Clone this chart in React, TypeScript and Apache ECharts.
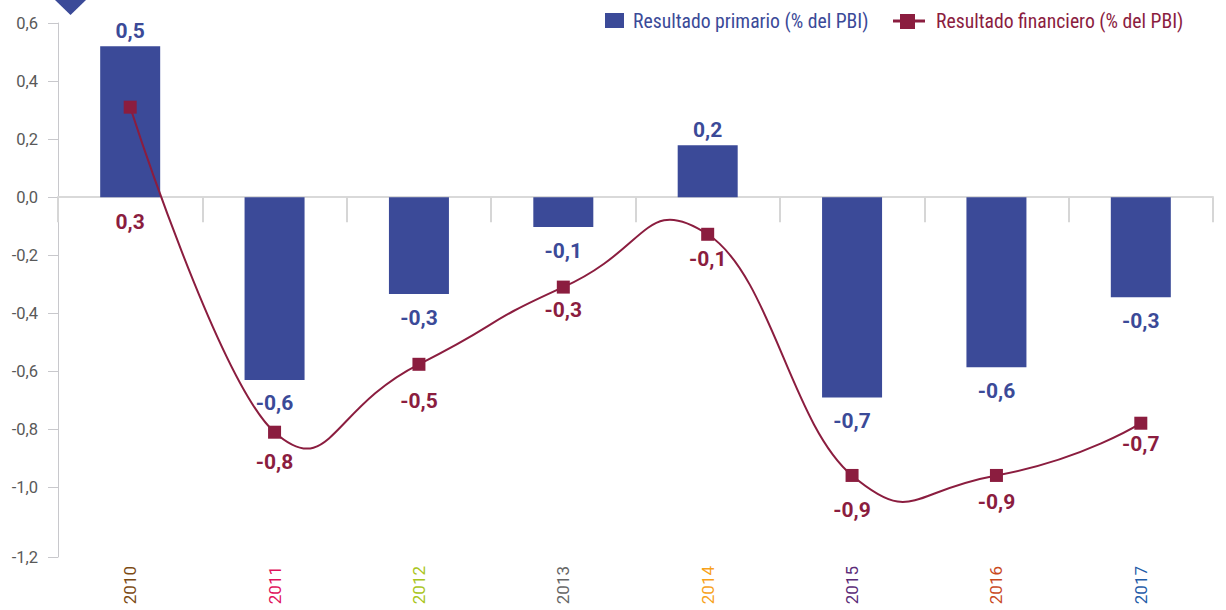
import React, { useEffect, useRef } from "react";
import * as echarts from "echarts";

const years = ["2010", "2011", "2012", "2013", "2014", "2015", "2016", "2017"];
const yearColors = ["#7b4a12", "#e0125c", "#a9c520", "#666666", "#f7a21b", "#5b2b78", "#c94a1f", "#1f5ca8"];
const primario = [0.52, -0.63, -0.334, -0.103, 0.179, -0.69, -0.586, -0.345];
const primarioLabels = ["0,5", "-0,6", "-0,3", "-0,1", "0,2", "-0,7", "-0,6", "-0,3"];
const financiero = [0.31, -0.81, -0.576, -0.31, -0.128, -0.959, -0.959, -0.779];
const financieroLabels = ["0,3", "-0,8", "-0,5", "-0,3", "-0,1", "-0,9", "-0,9", "-0,7"];
const yTickValues = [0.6, 0.4, 0.2, 0, -0.2, -0.4, -0.6, -0.8, -1.0, -1.24];
const yTickLabels = ["0,6", "0,4", "0,2", "0,0", "-0,2", "-0,4", "-0,6", "-0,8", "-1,0", "-1,2"];
const seriesNames = ["Resultado primario (% del PBI)", "Resultado financiero (% del PBI)"];

const BLUE = "#3b4a98";
const MAROON = "#8b1d3f";
const NARROW = "'Roboto Condensed', 'Liberation Sans Narrow', 'DejaVu Sans Condensed', sans-serif";
const ROBOTO = "Roboto, 'Liberation Sans', sans-serif";

export default function App() {
  const ref = useRef<HTMLDivElement>(null);
  useEffect(() => {
    if (!ref.current) return;
    const chart = echarts.init(ref.current, undefined, { renderer: "svg" });
    const lineNudge = [90, 5, 12, -2, 0, 10, 2, -4];
    const smooth = 0.62;
    const option: any = {
      animation: false,
      textStyle: { fontFamily: ROBOTO },
      grid: { left: 58, right: 13, top: 23, bottom: 53 },
      xAxis: [
        {
          type: "category",
          data: years,
          boundaryGap: true,
          axisLine: { onZero: true, lineStyle: { color: "#d9d9d9", width: 2 } },
          axisTick: { show: true, length: 25, lineStyle: { color: "#d6d6d6", width: 2 } },
          axisLabel: { show: false },
          splitLine: { show: false },
        },
        {
          type: "category",
          data: years,
          position: "bottom",
          axisLine: { show: false, onZero: false },
          axisTick: { show: false },
          axisLabel: {
            rotate: 90,
            margin: 9,
            fontSize: 17,
            fontFamily: ROBOTO,
            color: (_v: any, i: number) => yearColors[i],
          },
        },
      ],
      yAxis: {
        type: "value",
        min: -1.24,
        max: 0.6,
        axisLine: { show: true, lineStyle: { color: "#c8c8cc", width: 1 } },
        axisTick: { show: true, length: 10, customValues: yTickValues, lineStyle: { color: "#c8c8cc" } },
        axisLabel: {
          customValues: yTickValues,
          margin: 20,
          fontSize: 16.5,
          color: "#595959",
          fontFamily: ROBOTO,
          formatter: (v: number) => {
            const i = yTickValues.findIndex((t) => Math.abs(t - v) < 1e-6);
            return i >= 0 ? yTickLabels[i] : "";
          },
        },
        splitLine: { show: false },
      },
      series: [
        {
          name: seriesNames[0],
          type: "bar",
          xAxisIndex: 0,
          barWidth: 60,
          itemStyle: { color: BLUE },
          data: primario.map((v, i) => ({
            value: v,
            label: {
              show: true,
              position: v >= 0 ? "top" : "bottom",
              distance: v >= 0 ? 5 : 13,
              formatter: () => primarioLabels[i],
              color: BLUE,
              fontSize: 21,
              fontWeight: "bold",
              fontFamily: ROBOTO,
            },
          })),
        },
        {
          name: seriesNames[1] + " curve",
          type: "custom",
          xAxisIndex: 0,
          z: 4,
          silent: true,
          data: [[0, financiero[0]]],
          encode: { x: 0, y: 1 },
          renderItem: (_params: any, api: any) => {
            const p = financiero.map((v, i) => api.coord([i, v]));
            const n = p.length;
            const dist = (a: number[], b: number[]) => Math.hypot(b[0] - a[0], b[1] - a[1]);
            const cpIn: number[][] = [];
            const cpOut: number[][] = [];
            for (let i = 0; i < n; i++) {
              if (i === 0 || i === n - 1) {
                cpIn.push(p[i]);
                cpOut.push(p[i]);
                continue;
              }
              const vx = p[i + 1][0] - p[i - 1][0];
              const vy = p[i + 1][1] - p[i - 1][1];
              const d0 = dist(p[i - 1], p[i]);
              const d1 = dist(p[i], p[i + 1]);
              const r = (smooth * Math.min(d0, d1)) / (d0 + d1);
              cpIn.push([p[i][0] - vx * r, p[i][1] - vy * r]);
              cpOut.push([p[i][0] + vx * r, p[i][1] + vy * r]);
            }
            let d = `M${p[0][0]},${p[0][1]}`;
            for (let i = 0; i < n - 1; i++) {
              const a = cpOut[i];
              const b = cpIn[i + 1];
              d += ` C${a[0]},${a[1]} ${b[0]},${b[1]} ${p[i + 1][0]},${p[i + 1][1]}`;
            }
            return {
              type: "path",
              shape: { pathData: d },
              style: { stroke: MAROON, lineWidth: 2, fill: "none" },
            };
          },
        },
        {
          name: seriesNames[1],
          type: "line",
          xAxisIndex: 0,
          symbol: "rect",
          symbolSize: 13,
          lineStyle: { width: 0, opacity: 0 },
          itemStyle: { color: MAROON },
          z: 5,
          data: financiero.map((v, i) => ({
            value: v,
            label: {
              show: true,
              position: "bottom",
              distance: 8,
              offset: [0, lineNudge[i]],
              formatter: () => financieroLabels[i],
              color: MAROON,
              fontSize: 21,
              fontWeight: "bold",
              fontFamily: ROBOTO,
            },
          })),
        },
      ],
      graphic: [
        { type: "polygon", shape: { points: [[55, 0], [86, 0], [70.5, 15]] }, style: { fill: BLUE } },
        { type: "rect", shape: { x: 605, y: 13, width: 19, height: 15 }, style: { fill: BLUE } },
        {
          type: "text",
          x: 633,
          y: 21,
          style: { text: seriesNames[0], fill: BLUE, font: `19.7px ${NARROW}`, verticalAlign: "middle" },
        },
        { type: "line", shape: { x1: 893, y1: 21, x2: 925, y2: 21 }, style: { stroke: MAROON, lineWidth: 3 } },
        { type: "rect", shape: { x: 900, y: 14, width: 15, height: 15 }, style: { fill: MAROON } },
        {
          type: "text",
          x: 936,
          y: 21,
          style: { text: seriesNames[1], fill: MAROON, font: `19.7px ${NARROW}`, verticalAlign: "middle" },
        },
      ],
    };
    chart.setOption(option);
    return () => chart.dispose();
  }, []);
  return (
    <div
      ref={ref}
      style={{ position: "fixed", left: 0, top: 0, width: 1226, height: 610, background: "#fff" }}
    />
  );
}
